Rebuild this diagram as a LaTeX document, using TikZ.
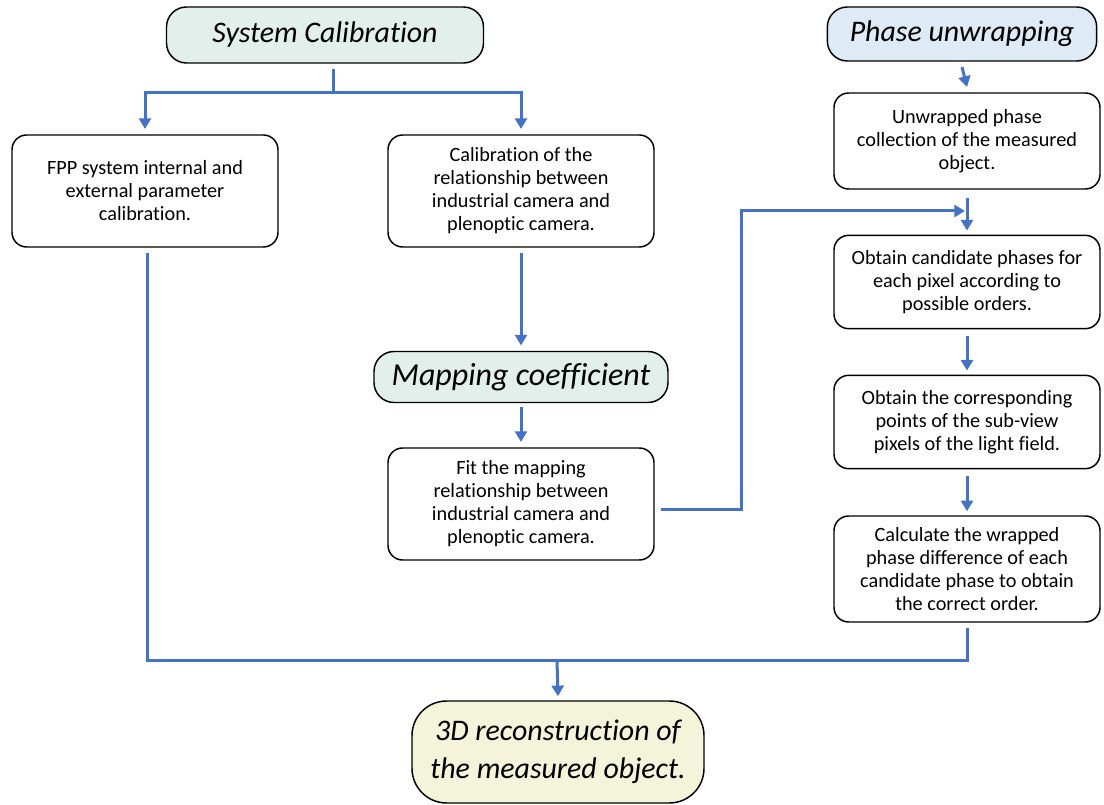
\documentclass[tikz,border=0pt]{standalone}
\usepackage{fontspec}
\setmainfont{Carlito}[Ligatures=NoCommon]
\usepackage{xcolor}
\usetikzlibrary{arrows.meta, positioning}

\definecolor{flowblue}{HTML}{4472C4}
\definecolor{calgreen}{HTML}{E3EFEA}
\definecolor{phaseblue}{HTML}{DEEAF6}
\definecolor{resyellow}{HTML}{F4F4DA}

\begin{document}
\begin{tikzpicture}[
    x=0.75pt, y=-0.75pt,
    box/.style  = {rectangle, draw=black, line width=1.1pt, rounded corners=11pt,
                   fill=white, minimum width=199.5pt, minimum height=84pt,
                   align=center, inner sep=0pt,
                   font=\fontsize{15.2}{17.25}\selectfont},
    head/.style = {rectangle, draw=black, line width=1.1pt, rounded corners=15pt,
                   align=center, inner sep=0pt,
                   font=\fontsize{22.4}{28.5}\selectfont\itshape},
    arr/.style  = {-{Triangle[width=9pt,length=8pt]}, line width=2.25pt, draw=flowblue},
    lin/.style  = {line width=2.25pt, draw=flowblue}
  ]
  \useasboundingbox (0,0) rectangle (1104,805);

  % calibration branch
  \node[head, fill=calgreen, minimum width=237.75pt, minimum height=42pt] (sysCal) at (325,35) {System Calibration};
  \node[box] (fpp)    at (145,191) {FPP system internal and\\external parameter\\calibration.};
  \node[box] (calRel) at (521,191) {Calibration of the\\relationship between\\industrial camera and\\plenoptic camera.};
  \node[head, fill=calgreen, minimum width=220.5pt, minimum height=38.25pt,
        font=\fontsize{24}{28.5}\selectfont\itshape] (mapCoef) at (521,377) {Mapping coefficient};
  \node[box] (fit)    at (521,504) {Fit the mapping\\relationship between\\industrial camera and\\plenoptic camera.};

  % phase branch
  \node[head, fill=phaseblue, minimum width=202pt, minimum height=40.5pt] (phaseUn) at (962,34) {Phase unwrapping};
  \node[box, minimum height=72pt]   (unwr) at (967,141) {Unwrapped phase\\collection of the measured\\object.};
  \node[box, minimum height=70pt]   (cand) at (967,282) {Obtain candidate phases for\\each pixel according to\\possible orders.};
  \node[box, minimum height=70pt]   (corr) at (967,422) {Obtain the corresponding\\points of the sub-view\\pixels of the light field.};
  \node[box, minimum height=79.5pt] (calc) at (967,569) {Calculate the wrapped\\phase difference of each\\candidate phase to obtain\\the correct order.};

  % result
  \node[head, fill=resyellow, rounded corners=26pt, minimum width=219pt, minimum height=76.5pt] (recon) at (558,752) {3D reconstruction of\\the measured object.};

  \coordinate (split) at (333,93);
  \coordinate (bend)  at (741,211);
  \coordinate (join)  at (557,660);

  \draw[lin] ([yshift=-4pt]sysCal.south -| split) -- (split);
  \draw[arr] (split) -| ([yshift=4pt]fpp.north);
  \draw[arr] (split) -| ([yshift=4pt]calRel.north);
  \draw[arr] ([yshift=-4pt]calRel.south) -- ([yshift=4pt]mapCoef.north);
  \draw[arr] ([yshift=-3pt]mapCoef.south) -- ([yshift=4pt]fit.north);
  \draw[arr] ([xshift=5pt,yshift=-4.5pt]fit.east) -| (bend) -- ([xshift=-1.5pt]bend -| cand.north);

  \draw[arr] ([yshift=-4pt]phaseUn.south) -- ([yshift=4pt]unwr.north);
  \draw[arr] ([yshift=-6pt]unwr.south) -- ([yshift=3pt]cand.north);
  \draw[arr] ([yshift=-5pt]cand.south) -- ([yshift=3pt]corr.north);
  \draw[arr] ([yshift=-5pt]corr.south) -- ([yshift=3pt]calc.north);

  \draw[lin] ([xshift=1.5pt,yshift=-4pt]fpp.south) |- (join) -| ([yshift=-4pt]calc.south);
  \draw[arr] (join) -- ([yshift=3pt]recon.north);
\end{tikzpicture}
\end{document}
